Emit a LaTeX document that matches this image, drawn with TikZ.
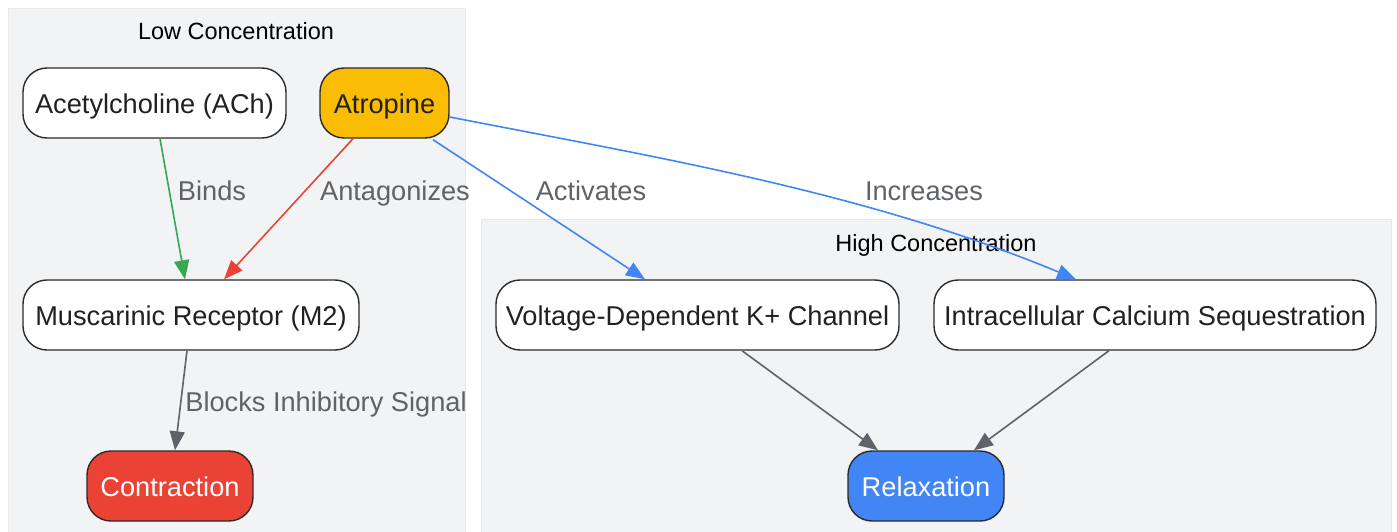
\documentclass[tikz,border=0pt]{standalone}
\usepackage{fontspec}
\setmainfont{Liberation Sans}
\usetikzlibrary{arrows.meta}
\definecolor{clfill}{HTML}{F1F3F4}
\definecolor{lowborder}{RGB}{244,230,230}
\definecolor{highborder}{RGB}{224,232,242}
\definecolor{nodeborder}{HTML}{2B2B2B}
\definecolor{nodetext}{HTML}{202124}
\definecolor{lbltext}{HTML}{5F6368}
\definecolor{gedge}{HTML}{5F6368}
\definecolor{ggreen}{HTML}{34A853}
\definecolor{gred}{HTML}{EA4335}
\definecolor{gblue}{HTML}{4285F4}
\definecolor{gyellow}{HTML}{FBBC04}
\tikzset{
  box/.style={draw=nodeborder, line width=1.4pt, rounded corners=24pt, fill=white,
    inner sep=0pt, minimum height=70pt, text=nodetext, text height=21.5pt, text depth=0pt,
    font=\fontsize{27.2}{32}\selectfont},
  lbl/.style={text=lbltext, inner sep=0pt, text height=19.5pt, text depth=0pt,
    font=\fontsize{27.2}{32}\selectfont},
  cltitle/.style={text=black, inner sep=0pt, text height=16.8pt, text depth=0pt,
    font=\fontsize{23.5}{28}\selectfont},
  conn/.style={line width=1.6pt, -{Triangle[length=19pt,width=15pt]}},
}
\begin{document}
\begin{tikzpicture}[x=1pt,y=-1pt]
\useasboundingbox (0,0) rectangle (1397,532);
% clusters
\path[fill=clfill, draw=lowborder, line width=1pt] (8,9) rectangle (465,540);
\path[fill=clfill, draw=highborder, line width=1pt] (481,219) rectangle (1391,540);
\node[cltitle] (lowt) at (236,31) {Low Concentration};
\node[cltitle] (hight) at (936,243) {High Concentration};
% nodes
\node[box, minimum width=263pt] (ach) at (154.5,103) {Acetylcholine (ACh)};
\node[box, minimum width=129pt, fill=gyellow] (atr) at (384.5,103) {Atropine};
\node[box, minimum width=336pt] (m2) at (191,315) {Muscarinic Receptor (M2)};
\node[box, minimum width=166pt, fill=gred, text=white] (con) at (170,486) {Contraction};
\node[box, minimum width=403pt] (vdk) at (697.5,315) {Voltage-Dependent K+ Channel};
\node[box, minimum width=442pt] (ics) at (1155,315) {Intracellular Calcium Sequestration};
\node[box, minimum width=156pt, fill=gblue, text=white] (rel) at (926,486) {Relaxation};
% edges
\draw[conn, ggreen] ([xshift=5.5pt]ach.south) -- ([xshift=-6pt]m2.north);
\draw[conn, gred] ([xshift=-31.5pt]atr.south) -- ([xshift=33pt]m2.north);
\draw[conn, gblue] ([xshift=48.5pt,yshift=-1pt]atr.south) -- ([xshift=-52.5pt]vdk.north);
\draw[conn, gblue] ([yshift=-14pt]atr.east) .. controls (660,158) and (866,192) .. ([xshift=-79pt]ics.north);
\draw[conn, gedge] ([xshift=-4pt]m2.south) -- ([xshift=5pt]con.north);
\draw[conn, gedge] ([xshift=44.5pt]vdk.south) -- ([xshift=-48pt]rel.north);
\draw[conn, gedge] ([xshift=-46pt]ics.south) -- ([xshift=48pt]rel.north);
% edge labels
\node[lbl] (lbinds) at (212,191) {Binds};
\node[lbl] (lant) at (395,191) {Antagonizes};
\node[lbl] (lact) at (591,191) {Activates};
\node[lbl] (linc) at (924,191) {Increases};
\node[lbl] (lblk) at (326,402) {Blocks Inhibitory Signal};
\end{tikzpicture}
\end{document}
